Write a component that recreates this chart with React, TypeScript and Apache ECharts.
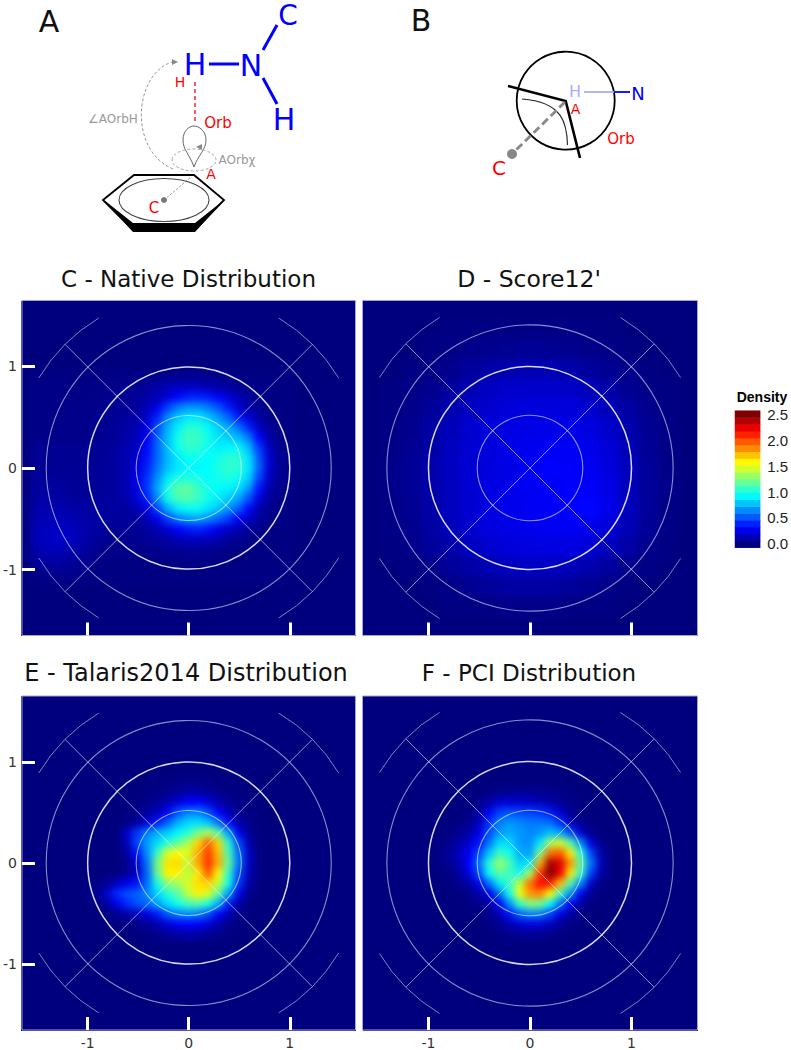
import React, { useEffect, useRef } from "react";
import * as echarts from "echarts";

// ---------- data ----------
const fineAxis = ["-1.6","-1.5","-1.4","-1.3","-1.2","-1.1","-1.0","-0.9","-0.8","-0.7","-0.6","-0.5","-0.4","-0.3","-0.2","-0.1","0","0.1","0.2","0.3","0.4","0.5","0.6","0.7","0.8","0.9","1.0","1.1","1.2","1.3","1.4","1.5","1.6"];
const coarseAxis = ["-1.6","-1.4","-1.2","-1.0","-0.8","-0.6","-0.4","-0.2","0","0.2","0.4","0.6","0.8","1.0","1.2","1.4","1.6"];
const tickValues = [-1, 0, 1];
const densityTicks = [0, 0.5, 1, 1.5, 2, 2.5];
const colorbarBins = [0,.13,.27,.40,.54,.67,.81,.94,1.07,1.21,1.34,1.48,1.61,1.74,1.88,2.01,2.15,2.28,2.42,2.55];
const jet = ["#00007F","#0000FF","#007FFF","#00FFFF","#7FFF7F","#FFFF00","#FF7F00","#FF0000","#7F0000"];

// Panel C: columns x = -1.5 .. 1.0, rows y = 0.9 .. -1.1, step 0.1
const nativeRows = [
[.01,.01,.01,.01,.01,.02,.02,.02,.02,.02,.03,.03,.03,.04,.05,.05,.05,.04,.04,.03,.02,.02,.01,.01,.01,.01],
[.02,.02,.02,.02,.02,.02,.02,.03,.03,.04,.05,.07,.10,.14,.17,.18,.16,.13,.10,.07,.04,.03,.02,.02,.01,.01],
[.02,.02,.02,.02,.02,.02,.03,.03,.04,.05,.07,.09,.14,.22,.32,.38,.40,.37,.30,.22,.13,.07,.03,.02,.01,.01],
[.02,.02,.02,.03,.03,.03,.03,.04,.05,.06,.08,.13,.26,.46,.62,.68,.68,.62,.52,.38,.20,.10,.05,.02,.02,.01],
[.02,.02,.03,.03,.03,.03,.04,.05,.06,.08,.10,.20,.40,.66,.82,.90,.90,.82,.70,.56,.38,.20,.09,.03,.02,.01],
[.02,.02,.03,.03,.03,.03,.04,.05,.07,.10,.13,.26,.52,.76,.92,1.05,1.05,.95,.84,.74,.60,.40,.17,.07,.02,.01],
[.03,.03,.03,.03,.03,.03,.04,.05,.07,.10,.15,.30,.56,.80,1.0,1.12,1.10,1.0,.90,.84,.78,.62,.32,.11,.03,.01],
[.05,.05,.05,.05,.05,.04,.05,.06,.08,.12,.18,.34,.58,.80,.98,1.08,1.06,.98,.92,.95,.94,.78,.46,.17,.05,.01],
[.05,.05,.05,.05,.05,.05,.05,.07,.09,.13,.20,.36,.58,.78,.90,.98,.98,.96,1.0,1.06,1.06,.88,.54,.20,.06,.02],
[.05,.05,.05,.05,.05,.05,.06,.07,.09,.12,.23,.40,.62,.80,.90,.94,.94,.96,1.03,1.08,1.06,.90,.56,.21,.06,.02],
[.07,.07,.07,.06,.06,.05,.06,.07,.09,.13,.26,.44,.68,.90,1.02,1.03,1.0,.96,1.0,1.03,.98,.84,.48,.17,.05,.02],
[.08,.08,.08,.07,.06,.06,.06,.07,.09,.13,.26,.46,.74,1.02,1.18,1.20,1.10,1.0,.96,.94,.88,.70,.36,.12,.04,.02],
[.09,.09,.09,.08,.07,.07,.07,.08,.09,.12,.22,.40,.68,1.0,1.14,1.16,1.10,1.0,.92,.84,.74,.52,.24,.08,.03,.02],
[.11,.12,.12,.11,.10,.09,.08,.08,.08,.09,.13,.28,.50,.76,.92,.98,.98,.90,.82,.70,.55,.34,.13,.04,.02,.01],
[.12,.14,.15,.14,.12,.10,.10,.08,.07,.07,.08,.14,.28,.48,.64,.72,.74,.68,.58,.46,.32,.18,.08,.03,.02,.01],
[.13,.16,.18,.17,.14,.11,.09,.07,.05,.05,.06,.08,.13,.22,.32,.38,.40,.36,.28,.19,.12,.07,.03,.01,.01,.01],
[.13,.16,.19,.18,.15,.10,.07,.05,.04,.04,.05,.06,.08,.10,.14,.17,.18,.16,.12,.08,.05,.03,.01,.01,.01,.01],
[.11,.14,.15,.14,.12,.08,.05,.03,.03,.03,.03,.03,.04,.05,.06,.07,.07,.06,.04,.03,.02,.01,.01,.01,.01,.01],
[.07,.09,.10,.09,.07,.05,.03,.02,.02,.02,.02,.02,.02,.02,.02,.03,.03,.02,.02,.01,.01,.01,.01,.01,.01,.01],
[.03,.05,.06,.05,.04,.03,.02,.01,.01,.01,.01,.01,.01,.01,.01,.01,.01,.01,.01,.01,.01,.01,.01,.01,.01,.01],
[.01,.02,.02,.02,.02,.01,.01,.01,.01,.01,.01,.01,.01,.01,.01,.01,.01,.01,.01,.01,.01,.01,.01,.01,.01,.01],
];

// Panel D: columns x = -1.6 .. 1.6, rows y = 1.4 .. -1.4, step 0.2
const score12Rows = [
[0,0,0,0,.01,.01,.02,.02,.02,.02,.02,.01,.01,0,0,0,0],
[0,0,0,.01,.02,.03,.04,.05,.06,.05,.04,.03,.02,.01,0,0,0],
[0,0,.01,.02,.04,.07,.10,.12,.13,.13,.11,.08,.05,.03,.01,0,0],
[0,.01,.02,.04,.08,.13,.17,.19,.19,.19,.18,.15,.10,.05,.02,.01,0],
[0,.01,.03,.07,.12,.17,.20,.23,.24,.24,.23,.20,.15,.09,.04,.01,0],
[0,.02,.04,.09,.15,.20,.23,.25,.26,.27,.27,.24,.19,.12,.05,.02,0],
[0,.02,.05,.10,.16,.21,.24,.26,.28,.29,.29,.27,.22,.14,.06,.02,0],
[0,.03,.06,.11,.17,.21,.24,.26,.29,.32,.31,.29,.24,.15,.07,.02,0],
[0,.03,.06,.11,.16,.21,.25,.27,.29,.30,.31,.31,.26,.16,.07,.03,0],
[0,.02,.05,.10,.16,.21,.25,.27,.29,.30,.31,.33,.27,.16,.07,.02,0],
[0,.02,.04,.09,.15,.20,.24,.26,.28,.29,.29,.27,.22,.14,.06,.02,0],
[0,.01,.03,.07,.11,.16,.20,.23,.24,.25,.25,.22,.16,.10,.04,.01,0],
[0,0,.01,.03,.07,.10,.14,.16,.17,.17,.15,.12,.08,.04,.02,0,0],
[0,0,0,.01,.02,.05,.07,.09,.09,.09,.07,.05,.03,.01,0,0,0],
[0,0,0,0,.01,.01,.02,.03,.03,.03,.02,.01,.01,0,0,0,0],
];

// Panel E: columns x = -1.0 .. 1.0, rows y = 0.8 .. -0.7, step 0.1
const talarisRows = [
[0,0,0,0,0,0,0,.01,.01,.02,.03,.03,.02,.01,.01,0,0,0,0,0,0],
[0,0,0,0,0,0,.01,.02,.04,.07,.11,.11,.07,.04,.02,.01,0,0,0,0,0],
[0,0,0,0,0,.01,.03,.06,.12,.22,.32,.32,.24,.13,.06,.02,.01,0,0,0,0],
[0,0,0,0,0,.03,.08,.16,.32,.52,.64,.66,.52,.32,.14,.05,.01,0,0,0,0],
[0,0,0,0,.02,.08,.22,.38,.56,.76,.86,.88,.82,.62,.34,.11,.03,0,0,0,0],
[0,0,0,0,.18,.45,.64,.76,.84,.94,1.05,1.25,1.38,1.18,.72,.30,.06,0,0,0,0],
[0,0,0,0,.16,.50,.72,.88,1.05,1.20,1.38,1.70,1.98,1.70,1.05,.50,.12,.01,0,0,0],
[0,0,0,0,.08,.36,.68,1.10,1.50,1.60,1.50,1.80,2.08,1.75,1.15,.60,.17,.01,0,0,0],
[0,0,0,0,.04,.22,.62,1.25,1.65,1.68,1.45,1.80,2.10,1.80,1.20,.62,.17,.01,0,0,0],
[0,0,0,.01,.05,.18,.58,1.20,1.62,1.62,1.42,1.65,2.0,1.60,1.08,.52,.14,.01,0,0,0],
[0,.01,.05,.18,.28,.38,.60,1.0,1.30,1.35,1.50,1.68,1.70,1.45,1.0,.46,.10,0,0,0,0],
[.01,.05,.18,.42,.52,.56,.66,.86,1.05,1.18,1.42,1.62,1.50,1.18,.72,.26,.04,0,0,0,0],
[0,.01,.08,.26,.42,.52,.58,.72,.88,1.0,1.12,1.15,1.02,.76,.38,.10,.01,0,0,0,0],
[0,0,.01,.05,.09,.15,.24,.38,.54,.64,.68,.64,.52,.32,.13,.03,0,0,0,0,0],
[0,0,0,0,.01,.03,.06,.12,.22,.30,.32,.30,.22,.11,.04,.01,0,0,0,0,0],
[0,0,0,0,0,0,.01,.03,.06,.09,.11,.09,.06,.03,.01,0,0,0,0,0,0],
];

// Panel F: columns x = -1.0 .. 1.0, rows y = 0.7 .. -0.7, step 0.1
const pciRows = [
[0,0,0,0,0,0,.02,.04,.05,.06,.06,.05,.04,.02,.01,0,0,0,0,0,0],
[0,0,0,0,0,.03,.12,.20,.22,.20,.18,.15,.11,.06,.02,.01,0,0,0,0,0],
[0,0,0,0,.01,.09,.30,.48,.52,.50,.48,.45,.38,.20,.06,.01,0,0,0,0,0],
[0,0,0,0,.05,.16,.45,.64,.70,.66,.62,.62,.60,.44,.18,.05,.01,0,0,0,0],
[0,0,.01,.04,.10,.26,.52,.70,.76,.70,.66,.70,.80,.74,.52,.20,.05,0,0,0,0],
[0,.01,.04,.10,.20,.36,.62,.88,.86,.70,.68,.90,1.35,1.50,1.18,.68,.24,.04,0,0,0],
[0,.02,.06,.15,.30,.50,.82,1.10,1.0,.76,.72,1.25,1.95,2.0,1.65,1.05,.50,.10,0,0,0],
[0,.01,.05,.13,.32,.62,1.05,1.35,1.15,.85,.92,1.80,2.45,2.30,1.85,1.20,.62,.15,.01,0,0],
[0,0,.02,.08,.24,.52,.98,1.20,1.10,1.0,1.38,2.10,2.55,2.25,1.65,1.08,.48,.10,0,0,0],
[0,0,.01,.03,.10,.28,.60,.92,1.10,1.45,1.95,2.20,2.15,1.75,1.15,.66,.18,.02,0,0,0],
[0,0,0,.01,.03,.10,.25,.60,1.0,1.55,1.85,1.90,1.60,1.10,.68,.28,.05,0,0,0,0],
[0,0,0,0,.01,.03,.10,.30,.68,1.08,1.28,1.25,.95,.60,.32,.08,.01,0,0,0,0],
[0,0,0,0,0,.01,.04,.14,.36,.56,.66,.64,.48,.26,.08,.01,0,0,0,0,0],
[0,0,0,0,0,0,.01,.05,.13,.20,.24,.22,.15,.07,.02,0,0,0,0,0,0],
[0,0,0,0,0,0,0,.01,.03,.05,.06,.05,.03,.01,0,0,0,0,0,0,0],
];

// guide rings: radius, stroke opacity, stroke width
const ringRadii = [0.52, 1, 1.41];
const ringOpacity = [0.55, 0.85, 0.55];
const ringWidth = [1.1, 1.5, 1.1];
const outerRadius = 1.73;
const outerArcs = [[31, 59], [121, 149], [211, 239], [301, 329]];
const spokes = [45, 135, 225, 315];

const panelTitles = ["C - Native Distribution", "D - Score12'", "E - Talaris2014 Distribution", "F - PCI Distribution"];
const panelLeft = [20.5, 362.5, 20.5, 362.5];
const panelTop = [300.5, 300.5, 696, 696];
const panelSize = 335;
const titleX = [183.5, 524, 181, 524];
const titleTop = [274, 274, 668, 668];
const titleSize = [23, 23.5, 24, 23];

const BG = "#00007F";
const FONT = "'DejaVu Sans'";

function cells(rows: number[][], axis: string[], xStart: string, yStart: string) {
  const x0 = axis.indexOf(xStart);
  const y0 = axis.indexOf(yStart);
  const out: number[][] = [];
  rows.forEach((row, r) => row.forEach((v, c) => { if (v > 0) out.push([x0 + c, y0 - r, v]); }));
  return out;
}

const panelData = [
  { axis: fineAxis, data: cells(nativeRows, fineAxis, "-1.5", "0.9") },
  { axis: coarseAxis, data: cells(score12Rows, coarseAxis, "-1.6", "1.4") },
  { axis: fineAxis, data: cells(talarisRows, fineAxis, "-1.0", "0.8") },
  { axis: fineAxis, data: cells(pciRows, fineAxis, "-1.0", "0.7") },
];

echarts.graphic.registerShape("lobe", echarts.graphic.extendPath(
  "M194 167 C190 155 183 150 183 140 C183 131 189 126 194 126 C199 126 206 131 206 140 C206 150 198 155 194 167 Z", {}));

function txt(text: string, x: number, y: number, size: number, fill: string) {
  return { type: "text", x, y, silent: true, style: { text, fill, font: `${size}px ${FONT}`, align: "center", verticalAlign: "middle" } };
}
function seg(x1: number, y1: number, x2: number, y2: number, stroke: string, lineWidth: number, lineDash?: number[]) {
  return { type: "line", silent: true, shape: { x1, y1, x2, y2 }, style: { stroke, lineWidth, lineDash } };
}

const diagrams = [
  txt("A", 49, 21, 30, "#111"),
  txt("H", 195, 64, 30, "#0000ff"), txt("N", 251, 65, 30, "#0000ff"), txt("C", 288, 15, 28, "#0000ff"), txt("H", 284, 119, 30, "#0000ff"),
  seg(209, 64, 239, 64, "#0000ff", 3), seg(263, 50, 277, 25, "#0000ff", 3), seg(263, 78, 277, 104, "#0000ff", 3),
  txt("H", 180, 82, 14, "#ff0000"),
  seg(195, 82, 195, 122, "#ff3040", 1.6, [4, 3]),
  txt("Orb", 218, 123, 15, "#ff0000"),
  { type: "lobe", silent: true, style: { fill: "none", stroke: "#666", lineWidth: 1 } },
  { type: "ellipse", silent: true, shape: { cx: 194, cy: 160, rx: 22, ry: 11 }, style: { fill: "none", stroke: "#aaa", lineWidth: 1, lineDash: [3, 2] } },
  { type: "polygon", silent: true, shape: { points: [[196, 147], [202, 144], [202, 150]] }, style: { fill: "#888" } },
  txt("AOrb\u03C7", 237, 160, 12, "#999"),
  txt("A", 211, 174, 14, "#ff0000"),
  { type: "polygon", silent: true, shape: { points: [[103, 200], [134, 175], [194, 175], [224, 200], [194, 231], [134, 231]] }, style: { fill: "none", stroke: "#000", lineWidth: 1.8 } },
  { type: "polygon", silent: true, shape: { points: [[104, 200], [133, 232], [195, 232], [224, 200], [195, 223], [133, 223]] }, style: { fill: "#000" } },
  { type: "ellipse", silent: true, shape: { cx: 164, cy: 200, rx: 45, ry: 21.5 }, style: { fill: "none", stroke: "#444", lineWidth: 1.1 } },
  seg(164, 200, 191, 177, "#888", 1, [2, 2]),
  { type: "circle", silent: true, shape: { cx: 164, cy: 200, r: 3 }, style: { fill: "#777" } },
  txt("C", 154, 208, 15, "#ff0000"),
  { type: "bezierCurve", silent: true, shape: { x1: 173, y1: 169, cpx1: 128, cpy1: 150, cpx2: 134, cpy2: 74, x2: 172, y2: 62 }, style: { fill: "none", stroke: "#999", lineWidth: 1, lineDash: [3, 2] } },
  { type: "polygon", silent: true, shape: { points: [[178, 62], [172, 59], [172, 65]] }, style: { fill: "#888" } },
  txt("\u2220AOrbH", 113, 119, 12, "#999"),

  txt("B", 421, 20, 30, "#111"),
  { type: "circle", silent: true, shape: { cx: 565.7, cy: 100.7, r: 49 }, style: { fill: "none", stroke: "#000", lineWidth: 1.8 } },
  { type: "polyline", silent: true, shape: { points: [[508, 86], [565.7, 101], [580, 158]] }, style: { fill: "none", stroke: "#000", lineWidth: 2.6 } },
  { type: "bezierCurve", silent: true, shape: { x1: 522, y1: 99, cpx1: 564, cpy1: 102, cpx2: 567, cpy2: 125, x2: 567.5, y2: 145 }, style: { fill: "none", stroke: "#222", lineWidth: 1.1 } },
  seg(565, 102, 512, 154, "#888", 2.8, [8, 4]),
  { type: "circle", silent: true, shape: { cx: 512, cy: 154, r: 5 }, style: { fill: "#888" } },
  txt("C", 499, 168, 20, "#ff0000"),
  seg(584, 92, 614, 92, "#aaaaff", 1.8), seg(614, 92, 630, 92, "#0000ff", 1.8),
  txt("H", 575, 91.5, 16, "#aaaaff"), txt("N", 638, 93, 18, "#0000ff"),
  txt("A", 575.5, 109, 14, "#ff0000"), txt("Orb", 621, 139, 15, "#ff0000"),
];

type Guide = [number, number, number];
const guideItems: Guide[] = [
  ...ringRadii.map((r, i) => [0, r, i] as Guide),
  ...outerArcs.map((a) => [1, a[0], a[1]] as Guide),
  ...spokes.map((a) => [2, a, 0] as Guide),
];

function renderGuide(_p: any, api: any) {
  const kind = api.value(0);
  const c = api.coord([0, 0]);
  const unit = api.size([1, 1])[0];
  if (kind === 0) {
    const i = api.value(2);
    return { type: "circle", shape: { cx: c[0], cy: c[1], r: api.value(1) * unit }, style: { fill: "none", stroke: `rgba(255,255,255,${ringOpacity[i]})`, lineWidth: ringWidth[i] } };
  }
  if (kind === 1) {
    return { type: "arc", shape: { cx: c[0], cy: c[1], r: outerRadius * unit, startAngle: -api.value(2) * Math.PI / 180, endAngle: -api.value(1) * Math.PI / 180, clockwise: true }, style: { fill: "none", stroke: "rgba(255,255,255,0.5)", lineWidth: 1 } };
  }
  const a = api.value(1) * Math.PI / 180;
  return { type: "line", shape: { x1: c[0], y1: c[1], x2: c[0] + outerRadius * unit * Math.cos(a), y2: c[1] - outerRadius * unit * Math.sin(a) }, style: { stroke: "rgba(255,255,255,0.55)", lineWidth: 1 } };
}

function heatOption() {
  return {
    animation: false,
    grid: panelLeft.map((l, i) => ({ left: l, top: panelTop[i], width: panelSize, height: panelSize })),
    xAxis: panelData.map((p, i) => ({ type: "category", gridIndex: i, data: p.axis, show: false })),
    yAxis: panelData.map((p, i) => ({ type: "category", gridIndex: i, data: p.axis, show: false })),
    visualMap: { show: false, type: "continuous", min: 0, max: 2.55, inRange: { color: jet } },
    series: panelData.map((p, i) => ({ type: "heatmap", xAxisIndex: i, yAxisIndex: i, data: p.data, silent: true, progressive: 0 })),
  };
}

function overlayOption() {
  const axisText = { color: "#333", fontFamily: FONT, fontSize: 14 };
  const tick = { show: true, inside: true, length: 13, customValues: tickValues, lineStyle: { color: "#fff", width: 3 } };
  const hiddenLine = { show: false, onZero: false };
  const xAxes: any[] = panelLeft.map((_l, i) => ({
    type: "value", gridIndex: i, min: -1.65, max: 1.65, position: "bottom", splitLine: { show: false }, axisLine: hiddenLine, axisTick: tick,
    axisLabel: { show: i >= 2, customValues: tickValues, margin: 6, formatter: (v: number) => String(v), ...axisText },
  }));
  const yAxes: any[] = panelLeft.map((_l, i) => ({
    type: "value", gridIndex: i, min: -1.65, max: 1.65, position: "left", splitLine: { show: false }, axisLine: hiddenLine,
    axisTick: { ...tick, show: i % 2 === 0 },
    axisLabel: { show: i % 2 === 0, customValues: tickValues, margin: 5, formatter: (v: number) => String(v), ...axisText },
  }));
  // colour bar
  const barGrid = panelLeft.length;
  xAxes.push({ type: "category", gridIndex: barGrid, data: ["Density"], show: false });
  yAxes.push({ type: "category", gridIndex: barGrid, data: colorbarBins.map(String), show: false });
  const barTick = { show: true, inside: true, length: 6, customValues: densityTicks, lineStyle: { color: "rgba(255,255,255,0.75)", width: 1 } };
  yAxes.push({
    type: "value", gridIndex: barGrid, min: -0.08, max: 2.58, position: "right", splitLine: { show: false }, axisLine: hiddenLine, axisTick: barTick,
    axisLabel: { customValues: densityTicks, margin: 7, color: "#222", fontFamily: "'Liberation Sans'", fontSize: 15, formatter: (v: number) => v.toFixed(1) },
  });
  yAxes.push({
    type: "value", gridIndex: barGrid, min: -0.08, max: 2.58, position: "left", splitLine: { show: false }, axisLine: hiddenLine, axisTick: barTick,
    axisLabel: { show: false },
  });
  return {
    animation: false,
    title: [
      ...panelTitles.map((t, i) => ({ text: t, left: titleX[i], top: titleTop[i], textAlign: "center", textVerticalAlign: "middle", textStyle: { color: "#111", fontFamily: FONT, fontWeight: "normal", fontSize: titleSize[i] } })),
      { text: "Density", left: 757, top: 392, textAlign: "center", textVerticalAlign: "middle", textStyle: { color: "#000", fontFamily: "'Liberation Sans'", fontWeight: "bold", fontSize: 14 } },
    ],
    grid: [
      ...panelLeft.map((l, i) => ({ show: true, left: l, top: panelTop[i], width: panelSize, height: panelSize, backgroundColor: "transparent", borderColor: "#a4a4d8", borderWidth: 1 })),
      { left: 735, top: 410.7, width: 28, height: 137 },
    ],
    xAxis: xAxes,
    yAxis: yAxes,
    visualMap: { show: false, type: "continuous", min: 0, max: 2.55, inRange: { color: jet }, seriesIndex: [4] },
    graphic: { elements: diagrams },
    series: [
      ...panelLeft.map((_l, i) => ({ type: "custom", coordinateSystem: "cartesian2d", xAxisIndex: i, yAxisIndex: i, clip: false, silent: true, data: guideItems, renderItem: renderGuide, encode: { x: [], y: [] } })),
      { type: "heatmap", xAxisIndex: barGrid, yAxisIndex: barGrid, silent: true, data: colorbarBins.map((v, i) => [0, i, v]) },
    ],
  };
}

export default function App() {
  const heatRef = useRef<HTMLDivElement>(null);
  const overRef = useRef<HTMLDivElement>(null);
  useEffect(() => {
    const heat = echarts.init(heatRef.current!, undefined, { renderer: "svg" });
    const over = echarts.init(overRef.current!, undefined, { renderer: "svg" });
    heat.setOption(heatOption() as any);
    over.setOption(overlayOption() as any);
    return () => { heat.dispose(); over.dispose(); };
  }, []);
  const layer: React.CSSProperties = { position: "absolute", left: 0, top: 0, width: 791, height: 1050 };
  return (
    <div style={{ ...layer, background: "#fff", overflow: "hidden" }}>
      {panelLeft.map((l, i) => (
        <div key={i} style={{ position: "absolute", left: l, top: panelTop[i], width: panelSize, height: panelSize, background: BG }} />
      ))}
      <div ref={heatRef} style={{ ...layer, filter: "blur(3.5px)" }} />
      <div ref={overRef} style={layer} />
    </div>
  );
}
